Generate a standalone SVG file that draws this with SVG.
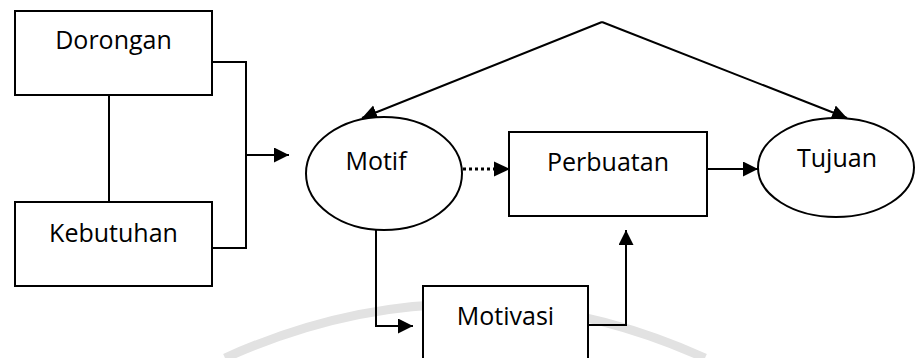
<svg xmlns="http://www.w3.org/2000/svg" width="915" height="358" viewBox="0 0 915 358">
<defs>
<marker id="ah" markerUnits="userSpaceOnUse" markerWidth="16" markerHeight="16" refX="15" refY="7.5" orient="auto">
<path d="M0,0 L15,7.5 L0,15 z" fill="#000"/>
</marker>
<style>
.box{fill:#fff;stroke:#000;stroke-width:2}
.lbl{font-family:"Open Sans","Noto Sans",sans-serif;font-size:25px;fill:#000;text-anchor:middle}
.ln{fill:none;stroke:#000;stroke-width:2}
.arr{fill:none;stroke:#000;stroke-width:2;marker-end:url(#ah)}
</style>
</defs>
<rect width="915" height="358" fill="#fff"/>
<path d="M225,358 Q465,250 705,358" fill="none" stroke="#e2e2e2" stroke-width="9"/>
<g id="connectors">
<path class="ln" d="M109,95 V202"/>
<path class="ln" d="M212,62 H246 V248 H212"/>
<path class="arr" d="M246,155 H289"/>
<path class="arr" d="M602,22 L362,118"/>
<path class="arr" d="M602,22 L847,118"/>
<path d="M463,169 H494" fill="none" stroke="#000" stroke-width="3" stroke-dasharray="3,3"/>
<path d="M494,161.5 L510,169 L494,176.5 z" fill="#000"/>
<path class="arr" d="M707,169 H758"/>
<path class="arr" d="M376,230 V326 H413"/>
<path class="arr" d="M588,325 H626 V230"/>
</g>
<g id="dorongan">
<rect class="box" x="15" y="11" width="197" height="84"/>
<text class="lbl" x="113.5" y="49">Dorongan</text>
</g>
<g id="kebutuhan">
<rect class="box" x="15" y="202" width="197" height="84"/>
<text class="lbl" x="113.5" y="242">Kebutuhan</text>
</g>
<g id="motif">
<ellipse class="box" cx="384" cy="173.5" rx="78" ry="56.5"/>
<text class="lbl" x="376" y="170">Motif</text>
</g>
<g id="perbuatan">
<rect class="box" x="509" y="132" width="198" height="84"/>
<text class="lbl" x="608" y="171">Perbuatan</text>
</g>
<g id="tujuan">
<ellipse class="box" cx="836" cy="167.5" rx="78" ry="49.5"/>
<text class="lbl" x="837" y="167">Tujuan</text>
</g>
<g id="motivasi">
<rect class="box" x="423" y="286" width="165" height="90"/>
<text class="lbl" x="505.5" y="325">Motivasi</text>
</g>
</svg>
